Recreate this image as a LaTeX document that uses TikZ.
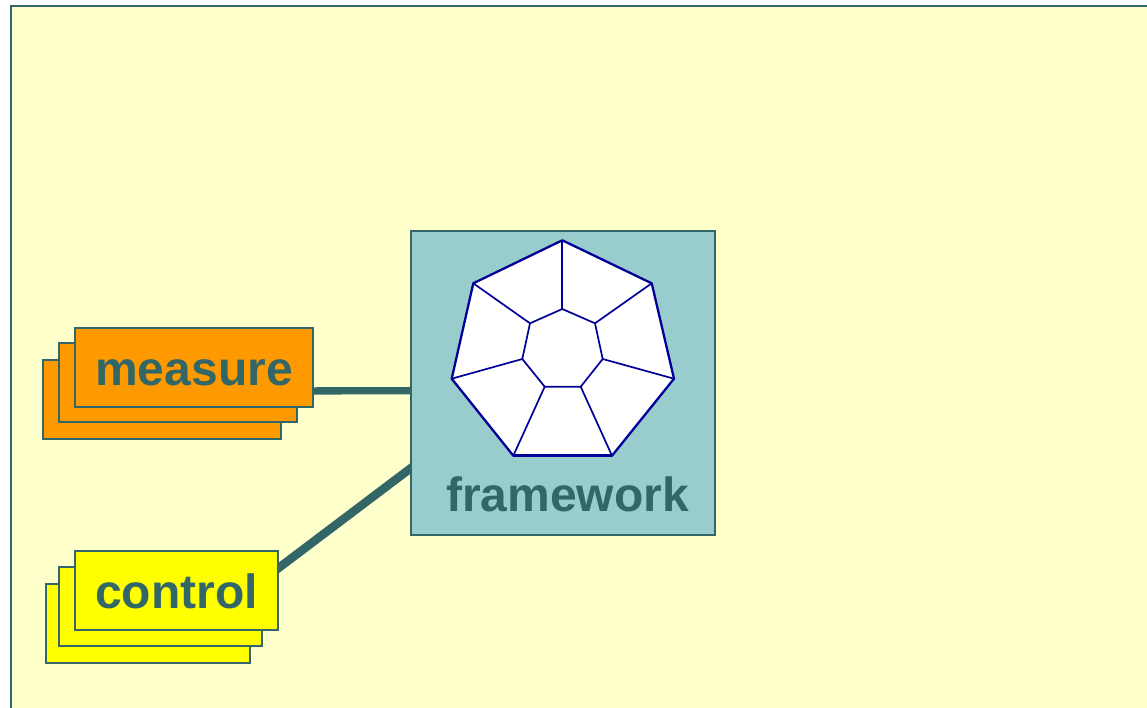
\documentclass[tikz,border=0pt]{standalone}
\usepackage{fontspec}
\usetikzlibrary{backgrounds}
\setmainfont{Liberation Sans}
\definecolor{paneyellow}{HTML}{FFFFCC}
\definecolor{darkteal}{HTML}{336666}
\definecolor{paleteal}{HTML}{99CCCC}
\definecolor{boxorange}{HTML}{FF9900}
\definecolor{boxyellow}{HTML}{FFFF00}
\definecolor{hepblue}{HTML}{000099}
\tikzset{
  cardbox/.style={draw=darkteal,line width=2pt,inner sep=0pt,outer sep=0pt,anchor=north west},
  cardtext/.style={text=darkteal,font=\fontsize{48}{50}\selectfont\bfseries},
  link/.style={draw=darkteal,shorten <=-6pt,shorten >=-6pt},
  hepouter/.style={draw=hepblue,line width=2.3pt,fill=white,line join=round},
  hepinner/.style={draw=hepblue,line width=1.7pt,line join=round}
}
\begin{document}
\begin{tikzpicture}[x=1pt,y=-1pt]
\useasboundingbox (0,0) rectangle (1147,707);

% back cards
\node[cardbox,fill=boxorange,minimum width=238.3pt,minimum height=79pt] (m3) at (42.7,359.6) {};
\node[cardbox,fill=boxorange,minimum width=238pt,minimum height=79.2pt] (m2) at (58.7,342.6) {};
\node[cardbox,fill=boxorange,minimum width=238.5pt,minimum height=79pt,cardtext,text height=57.4pt,text depth=21.6pt] (m1) at (74.8,327.7) {measure};

\node[cardbox,fill=boxyellow,minimum width=204pt,minimum height=78.6pt] (c3) at (45.7,583.9) {};
\node[cardbox,fill=boxyellow,minimum width=203.6pt,minimum height=78.8pt] (c2) at (58.7,566.9) {};
\node[cardbox,fill=boxyellow,minimum width=203.5pt,minimum height=79pt,cardtext,text height=57.1pt,text depth=21.9pt] (c1) at (74.8,551) {control};

% framework
\node[cardbox,fill=paleteal,minimum width=304pt,minimum height=304pt] (fw) at (411,231) {};
\node[cardtext,anchor=base,inner sep=0pt] (fwtext) at (567.5,511) {framework};

% pane and connectors, behind the boxes
\begin{scope}[on background layer]
\fill[white] (0,0) rectangle (1147,707);
\draw[fill=paneyellow,draw=darkteal,line width=2pt] (10.5,6) rectangle (1170,730);
\draw[link,line width=7.3pt] ([yshift=-23.7pt]m1.east) -- ([yshift=-7.7pt]fw.west);
\draw[link,line width=8.5pt] ([yshift=22.3pt]c1.east) -- ([yshift=-85pt]fw.west);
\end{scope}

% heptagon
\coordinate (o1) at (562.3,240.3);
\coordinate (o2) at (651.7,283.3);
\coordinate (o3) at (674,378.7);
\coordinate (o4) at (612,455.7);
\coordinate (o5) at (513.3,455.7);
\coordinate (o6) at (451.7,378.7);
\coordinate (o7) at (473.3,283.3);
\coordinate (i1) at (562.3,309);
\coordinate (i2) at (595,323.3);
\coordinate (i3) at (602.7,359);
\coordinate (i4) at (580.7,386.7);
\coordinate (i5) at (544.7,386.7);
\coordinate (i6) at (522.3,359);
\coordinate (i7) at (530,323.3);
\path[hepouter] (o1) -- (o2) -- (o3) -- (o4) -- (o5) -- (o6) -- (o7) -- cycle;
\draw[hepouter,fill=none,line width=3pt] (o5) -- (o4);
\path[hepinner] (i1) -- (i2) -- (i3) -- (i4) -- (i5) -- (i6) -- (i7) -- cycle;
\foreach \k in {1,...,7} { \draw[hepinner] (o\k) -- (i\k); }
\end{tikzpicture}
\end{document}
